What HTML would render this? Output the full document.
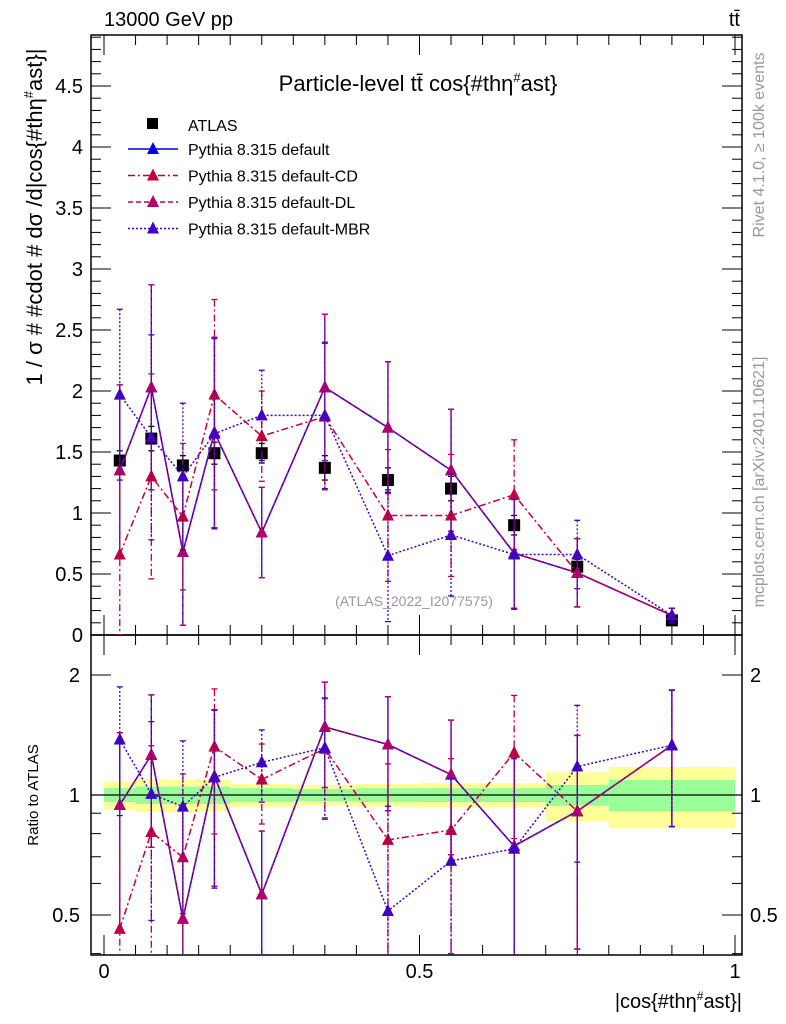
<!DOCTYPE html>
<html><head><meta charset="utf-8"><style>
html,body{margin:0;padding:0;background:#fff;width:786px;height:1024px;overflow:hidden;position:relative}
svg{display:block}
svg text{font-family:"Liberation Sans",Arial,sans-serif}
</style></head><body>
<svg id="c" width="786" height="1024" xmlns="http://www.w3.org/2000/svg" style="position:absolute;left:0;top:0">
<g id="g"></g>
</svg>
<script>
const xs=[0.025,0.075,0.125,0.175,0.25,0.35,0.45,0.55,0.65,0.75,0.9];
const binEdges=[0,0.05,0.1,0.15,0.2,0.3,0.4,0.5,0.6,0.7,0.8,1.0];
const atlas=[1.43,1.61,1.39,1.49,1.49,1.37,1.27,1.2,0.9,0.56,0.12];
const atlasErr=[0.08,0.1,0.08,0.09,0.08,0.1,0.1,0.1,0.08,0.06,0.02];
const yellowRel=[0.08,0.095,0.095,0.09,0.065,0.06,0.065,0.07,0.07,0.14,0.175];
const greenRel=[0.04,0.05,0.05,0.05,0.04,0.035,0.04,0.04,0.04,0.06,0.09];
const sDefault=[1.35,2.03,0.68,1.66,0.84,2.03,1.70,1.35,0.67,0.51,0.16];
const sCD=[0.66,1.30,0.97,1.97,1.63,1.79,0.98,0.98,1.15,0.51,0.16];
const sDL=[1.35,2.03,0.68,1.66,0.84,2.03,1.70,1.35,0.67,0.51,0.16];
const sMBR=[1.97,1.62,1.30,1.65,1.80,1.80,0.65,0.82,0.66,0.66,0.16];
const modelErr=[0.7,0.84,0.6,0.78,0.37,0.6,0.54,0.5,0.45,0.28,0.06];
const mainTicks=[0,0.5,1,1.5,2,2.5,3,3.5,4,4.5];
const ratioTicks=[0.5,1,2];
const xTicks=[0,0.5,1];

const L=91,R=742,T=35,MB=635,RB=955;
const X=v=>104+631*v;
const Y=v=>635-122*v;
const YR=r=>795-120*Math.log2(r);
const NS="http://www.w3.org/2000/svg";
const g=document.getElementById('g');
function el(t,a,txt){const e=document.createElementNS(NS,t);for(const k in a)e.setAttribute(k,a[k]);if(txt!==undefined)e.textContent=txt;g.appendChild(e);return e;}

const defs=el('defs',{});
defs.innerHTML='<clipPath id="cm"><rect x="'+L+'" y="'+T+'" width="'+(R-L)+'" height="'+(MB-T)+'"/></clipPath><clipPath id="cr"><rect x="'+L+'" y="'+MB+'" width="'+(R-L)+'" height="'+(RB-MB)+'"/></clipPath>';

for(let i=0;i<xs.length;i++){
  const x0=X(binEdges[i]),x1=X(binEdges[i+1]);
  let b=el('rect',{x:x0,y:YR(1+yellowRel[i]),width:x1-x0,height:YR(1-yellowRel[i])-YR(1+yellowRel[i]),fill:'#ffff99'});
  
  
}
for(let i=0;i<xs.length;i++){
  const x0=X(binEdges[i]),x1=X(binEdges[i+1]);
  let b=el('rect',{x:x0,y:YR(1+greenRel[i]),width:x1-x0,height:YR(1-greenRel[i])-YR(1+greenRel[i]),fill:'#99ff99'});
  
  
}
el('line',{x1:L,x2:R,y1:YR(1),y2:YR(1),stroke:'#000','stroke-width':1.2});

el('rect',{x:L,y:T,width:R-L,height:MB-T,fill:'none',stroke:'#000','stroke-width':1.5});
el('rect',{x:L,y:MB,width:R-L,height:RB-MB,fill:'none',stroke:'#000','stroke-width':1.5});

for(let v=0;v<=4.9;v+=0.1){
  const major=Math.abs(v*2-Math.round(v*2))<1e-6;const len=major?20:10;const y=Y(v);
  el('line',{x1:L,x2:L+len,y1:y,y2:y,stroke:'#000'});
  el('line',{x1:R,x2:R-len,y1:y,y2:y,stroke:'#000'});
}
mainTicks.forEach(v=>{
  const t=el('text',{x:83,y:Y(v)+7,'text-anchor':'end','font-size':20},String(v));
  
  
});
[0.4,0.5,0.6,0.7,0.8,0.9,1,2].forEach(r=>{
  const y=YR(r);if(y<MB||y>RB)return;const major=ratioTicks.includes(r);const len=major?20:10;
  el('line',{x1:L,x2:L+len,y1:y,y2:y,stroke:'#000'});
  el('line',{x1:R,x2:R-len,y1:y,y2:y,stroke:'#000'});
});
ratioTicks.forEach(r=>{
  const t=el('text',{x:80,y:YR(r)+7,'text-anchor':'end','font-size':20},String(r));
  
  
  const t2=el('text',{x:750,y:YR(r)+7,'font-size':20},String(r));
  
  
});
for(let i=0;i<=20;i++){
  const v=i*0.05;if(v>1.0001)break;const x=X(v);const major=i%10==0;const len=major?20:10;
  el('line',{x1:x,x2:x,y1:MB,y2:MB-len,stroke:'#000'});
  el('line',{x1:x,x2:x,y1:T,y2:T+len,stroke:'#000'});
  el('line',{x1:x,x2:x,y1:RB,y2:RB-len,stroke:'#000'});
  el('line',{x1:x,x2:x,y1:MB,y2:MB+len,stroke:'#000'});
}
xTicks.forEach(v=>{
  const t=el('text',{x:X(v),y:978,'text-anchor':'middle','font-size':20},String(v));
  
  
});

const series=[
 {name:'default',vals:sDefault,color:'#0000e6',dash:''},
 {name:'default-cd',vals:sCD,color:'#c0003c',dash:'7,3,2,3'},
 {name:'default-dl',vals:sDL,color:'#b0006a',dash:'5,3'},
 {name:'default-mbr',vals:sMBR,color:'#4000c0',dash:'2,2'}
];
function tri(x,y,c,clip,nm){
  const p=el('polygon',{points:`${x-6},${y+5} ${x+6},${y+5} ${x},${y-7}`,fill:c,'clip-path':clip});
  
  
}
function errbar(x,y1,y2,c,dash,clip){
  el('line',{x1:x,x2:x,y1:y1,y2:y2,stroke:c,'stroke-width':1.3,'stroke-dasharray':dash,'clip-path':clip});
  el('line',{x1:x-3,x2:x+3,y1:y1,y2:y1,stroke:c,'stroke-width':1.3,'clip-path':clip});
  el('line',{x1:x-3,x2:x+3,y1:y2,y2:y2,stroke:c,'stroke-width':1.3,'clip-path':clip});
}
xs.forEach((x,i)=>{
  errbar(X(x),Y(atlas[i]+atlasErr[i]),Y(atlas[i]-atlasErr[i]),'#000','','url(#cm)');
  const r=el('rect',{x:X(x)-6,y:Y(atlas[i])-6,width:12,height:12,fill:'#000'});
  
  
});
series.forEach(s=>{
  xs.forEach((x,i)=>errbar(X(x),Y(s.vals[i]+modelErr[i]),Y(Math.max(0,s.vals[i]-modelErr[i])),s.color,s.dash,'url(#cm)'));
  const pm=el('polyline',{points:xs.map((x,i)=>X(x)+','+Y(s.vals[i])).join(' '),fill:'none',stroke:s.color,'stroke-width':1.5,'stroke-dasharray':s.dash,'clip-path':'url(#cm)'});
  
  
  xs.forEach((x,i)=>tri(X(x),Y(s.vals[i]),s.color,'url(#cm)','marker-'+s.name));
  const rv=s.vals.map((v,i)=>v/atlas[i]);
  xs.forEach((x,i)=>{const e=modelErr[i]/atlas[i];errbar(X(x),YR(rv[i]+e),YR(Math.max(0.01,rv[i]-e)),s.color,s.dash,'url(#cr)');});
  const pr=el('polyline',{points:xs.map((x,i)=>X(x)+','+YR(rv[i])).join(' '),fill:'none',stroke:s.color,'stroke-width':1.5,'stroke-dasharray':s.dash,'clip-path':'url(#cr)'});
  
  
  xs.forEach((x,i)=>tri(X(x),YR(rv[i]),s.color,'url(#cr)','ratio-marker-'+s.name));
});

const legendLabels=['Pythia 8.315 default','Pythia 8.315 default-CD','Pythia 8.315 default-DL','Pythia 8.315 default-MBR'];
let lr=el('rect',{x:147,y:118,width:11,height:11,fill:'#000'});


let lt=el('text',{x:188,y:131,'font-size':16},'ATLAS');


series.forEach((s,i)=>{
  const y=149+26.5*i;
  el('line',{x1:128,x2:178,y1:y,y2:y,stroke:s.color,'stroke-width':1.5,'stroke-dasharray':s.dash});
  tri(153,y,s.color,'','legend-marker-'+s.name);
  const t=el('text',{x:188,y:y+6,'font-size':16},legendLabels[i]);
  
  
});
</script>
<svg width="786" height="1024" style="position:absolute;left:0;top:0" xmlns="http://www.w3.org/2000/svg">
<text x="104" y="26" font-size="20">13000 GeV pp</text>
<text x="740" y="26" font-size="20" text-anchor="end">tt̄</text>
<text x="418" y="91" font-size="22" text-anchor="middle">Particle-level tt̄ cos{#thη<tspan dy="-9" font-size="13">#</tspan><tspan dy="9">ast}</tspan></text>
<text transform="translate(42,217) rotate(-90)" font-size="22" text-anchor="middle">1 / σ # #cdot # dσ /d|cos{#thη<tspan dy="-9" font-size="13">#</tspan><tspan dy="9">ast}|</tspan></text>
<text transform="translate(38,795) rotate(-90)" font-size="15" text-anchor="middle">Ratio to ATLAS</text>
<text x="742" y="1008" font-size="20" text-anchor="end">|cos{#thη<tspan dy="-8" font-size="12">#</tspan><tspan dy="8">ast}|</tspan></text>
<text x="414" y="606" font-size="14" fill="#999" text-anchor="middle">(ATLAS_2022_I2077575)</text>
<text transform="translate(764,145) rotate(-90)" font-size="16" fill="#999" text-anchor="middle">Rivet 4.1.0, ≥ 100k events</text>
<text transform="translate(764,482) rotate(-90)" font-size="16" fill="#999" text-anchor="middle">mcplots.cern.ch [arXiv:2401.10621]</text>
</svg>
</body></html>
